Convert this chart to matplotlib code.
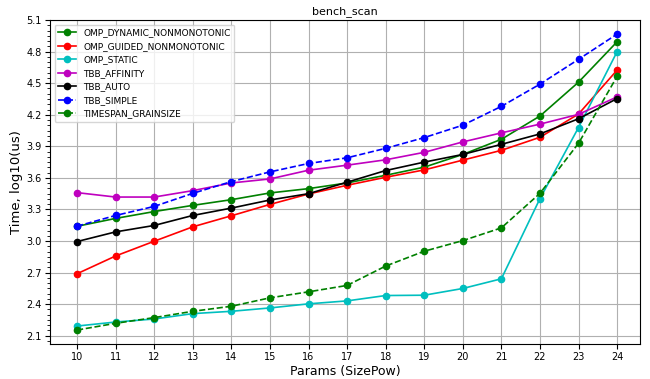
import matplotlib
matplotlib.use('Agg')
import matplotlib.pyplot as plt
from matplotlib.ticker import MultipleLocator
import numpy as np

# Size powers on the x axis
size_pow = [10, 11, 12, 13, 14, 15, 16, 17, 18, 19, 20, 21, 22, 23, 24]

# log10(us) timings
omp_dynamic = [3.14, 3.215, 3.28, 3.339, 3.393, 3.457, 3.498, 3.552, 3.625, 3.702, 3.823, 3.967, 4.188, 4.51, 4.894]
omp_guided = [2.689, 2.858, 2.998, 3.135, 3.24, 3.348, 3.447, 3.53, 3.606, 3.676, 3.769, 3.862, 3.986, 4.207, 4.625]
omp_static = [2.192, 2.23, 2.259, 2.31, 2.332, 2.364, 2.403, 2.431, 2.482, 2.485, 2.549, 2.641, 3.403, 4.079, 4.8]
tbb_affinity = [3.46, 3.418, 3.418, 3.479, 3.552, 3.59, 3.673, 3.721, 3.772, 3.843, 3.942, 4.028, 4.111, 4.204, 4.37]
tbb_auto = [2.995, 3.087, 3.148, 3.243, 3.313, 3.39, 3.45, 3.559, 3.67, 3.75, 3.823, 3.919, 4.018, 4.162, 4.354]
tbb_simple = [3.141, 3.243, 3.329, 3.453, 3.565, 3.657, 3.737, 3.791, 3.881, 3.983, 4.101, 4.28, 4.491, 4.727, 4.967]
timespan_grainsize = [2.154, 2.218, 2.272, 2.332, 2.38, 2.46, 2.517, 2.578, 2.762, 2.903, 3.004, 3.125, 3.453, 3.929, 4.565]

series = [
    ('OMP_DYNAMIC_NONMONOTONIC', omp_dynamic, 'g-o'),
    ('OMP_GUIDED_NONMONOTONIC', omp_guided, 'r-o'),
    ('OMP_STATIC', omp_static, 'c-o'),
    ('TBB_AFFINITY', tbb_affinity, 'm-o'),
    ('TBB_AUTO', tbb_auto, 'k-o'),
    ('TBB_SIMPLE', tbb_simple, 'b--o'),
    ('TIMESPAN_GRAINSIZE', timespan_grainsize, 'g--o'),
]

fig = plt.figure(figsize=(6.5, 3.79), dpi=100)
ax = fig.add_axes([0.077, 0.092, 0.908, 0.855])

for name, vals, fmt in series:
    ax.plot(size_pow, vals, fmt, label=name, markersize=4.5, linewidth=1.2)

ax.set_title('bench_scan', fontsize=8, pad=4)
ax.set_xlabel('Params (SizePow)', fontsize=9, labelpad=2)
ax.set_ylabel('Time, log10(us)', fontsize=9.5, labelpad=2)
ax.set_xticks(size_pow)
ax.set_yticks(np.round(np.arange(2.1, 5.15, 0.3), 1))
ax.yaxis.set_minor_locator(MultipleLocator(0.05))
ax.tick_params(labelsize=7, pad=2.5)
ax.set_xlim(9.3, 24.6)
ax.set_ylim(2.02, 5.1)
ax.grid(True)
ax.legend(loc='upper left', fontsize=6.5)

fig.savefig('out.png', dpi=100)
